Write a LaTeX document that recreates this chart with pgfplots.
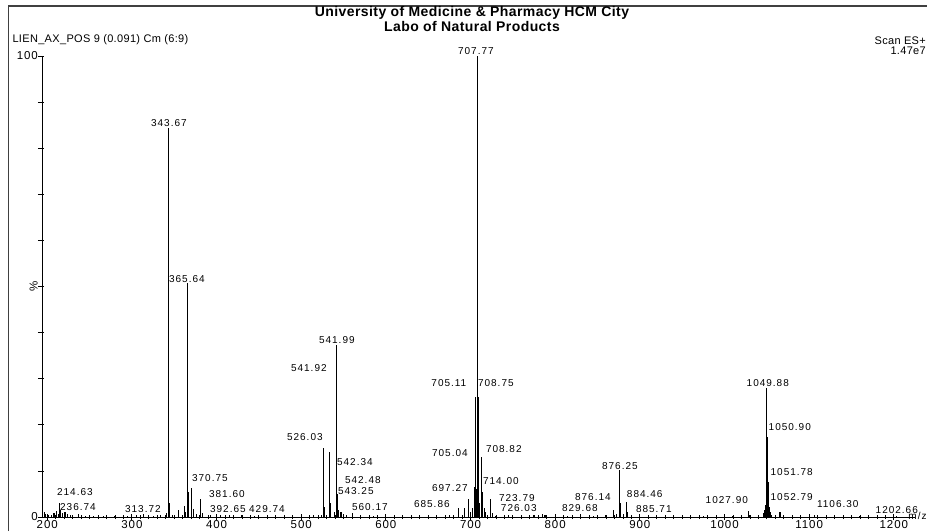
\documentclass[border=0pt]{standalone}
\usepackage{pgfplots}
\pgfplotsset{compat=1.18}
\usepackage{fontspec}
\setmainfont{Liberation Sans}
\newfontfamily\labfam[LetterSpace=10]{Liberation Sans}
\newfontfamily\tickfam[LetterSpace=8]{Liberation Sans}
\newfontfamily\hdrfam[LetterSpace=3]{Liberation Sans}
\newfontfamily\ttlfam[LetterSpace=3]{Liberation Sans}
\newcommand\lab{\labfam\fontsize{10}{12}\selectfont}
\newcommand\tic{\tickfam\fontsize{11.5}{13}\selectfont}
\newcommand\hdr{\hdrfam\fontsize{11}{13}\selectfont}
\newcommand\ttl{\ttlfam\fontsize{14}{15}\selectfont\bfseries}
\begin{document}
\begin{tikzpicture}[x=1pt,y=1pt]
\useasboundingbox (0,0) rectangle (927,531);
% frame
\draw[line width=1.1pt, black!75] (8.5,0) -- (8.5,525) -- (927,525);
% header
\node[font=\ttl] at (472,518) {University of Medicine \& Pharmacy HCM City};
\node[font=\ttl] at (472,505) {Labo of Natural Products};
\node[font=\hdr, anchor=west] at (9,491) {LIEN\_AX\_POS 9 (0.091) Cm (6:9)};
\node[font=\hdr, anchor=east, inner sep=0pt] at (926,490) {Scan ES+};
\node[font=\hdr, anchor=east, inner sep=0pt] at (926,480) {1.47e7};
\begin{axis}[
  at={(43pt,14pt)}, anchor=south west,
  scale only axis, width=872pt, height=461pt,
  xmin=195, xmax=1225, ymin=0, ymax=100,
  axis lines*=left,
  axis line style={line width=1pt, black},
  clip=false,
  xtick={200,300,...,1200},
  minor x tick num=9,
  ytick={0,10,...,100},
  yticklabels={0,{},{},{},{},{\rotatebox{90}{\%}},{},{},{},{},100},
  tick align=center,
  major tick length=6pt, minor tick length=4pt,
  every tick/.style={black, line width=0.8pt},
  y tick style={xshift=-2pt},
  ticklabel style={font=\tic, inner sep=1pt},
  xticklabel style={yshift=1pt},
  yticklabel style={xshift=-1pt},
  /pgf/number format/assume math mode=true,
  /pgf/number format/1000 sep={},
]
\addplot[ycomb, mark=none, line width=1.1pt, black] table {
x y
196.5 1.0
198 0.6
201 0.4
205 0.5
208 0.8
211 1.2
213 0.7
214.63 3.0
216 1.5
218 0.8
221 1.0
224 0.6
227 0.5
230 0.4
236.74 0.7
245 0.3
255 0.3
266 0.2
280 0.3
295 0.3
305 0.4
313.72 0.6
325 0.3
334 0.4
341 0.8
343.67 84.4
344.9 3.0
348 0.5
354.7 1.5
361.8 2.4
363 1.0
365.64 50.8
367.3 5.4
370.75 6.3
372.4 1.7
376 0.6
381.5 3.9
383 0.8
392.65 0.5
405 0.4
415 0.5
429.74 0.4
445 0.3
470 0.3
500 0.4
515 0.5
524 0.5
526.03 15.0
528 2.2
533.0 14.1
534.4 3.0
539 1.0
541.99 37.3
543.0 5.0
544.5 1.5
547 1.0
550.17 0.7
553 0.5
560.17 0.8
570 0.3
585 0.3
600 0.3
620 0.3
640 0.4
660 0.3
675 0.5
685.7 2.0
692.9 2.0
697.27 4.0
700 1.0
702 2.0
704.3 6.5
706.0 26.0
707.0 6.0
707.77 100.0
708.6 8.0
709.4 26.0
711.0 3.0
712.8 13.0
714.6 5.4
716 2.0
718 1.0
723.79 4.0
726.03 0.8
730 0.3
745 0.4
760 0.3
770 0.5
775 0.4
785 0.7
788 0.5
800 0.3
815 0.3
829.68 0.6
845 0.3
860 0.4
868.5 1.5
872 0.6
876.25 10.2
877.6 3.0
881 0.6
884.46 3.2
885.71 1.0
890 0.4
900 0.3
920 0.3
950 0.3
975 0.3
1000 0.3
1010 0.3
1027.90 1.2
1030 0.4
1040 0.4
1046 0.8
1047.5 1.5
1048.8 2.5
1049.88 28.0
1050.90 17.4
1051.78 7.6
1052.79 2.2
1054 1.0
1056 0.5
1065.5 1.1
1080 0.3
1106.30 0.4
1130 0.3
1160 0.2
1202.66 0.3
};
\addplot[only marks, mark=none, nodes near coords, point meta=explicit symbolic,
  nodes near coords style={anchor=center, font=\lab, inner sep=0pt, black}]
  table[meta=lab] {
x y lab
232.7 5.4 214.63
236.3 2.2 236.74
313.0 1.7 313.72
343.7 85.5 343.67
365.0 51.6 365.64
392.1 8.5 370.75
412.2 5.0 381.60
413.4 1.7 392.65
459.5 1.7 429.74
504.3 17.35 526.03
509.0 32.3 541.92
542.1 38.4 541.99
563.4 11.9 542.34
572.8 8.0 542.48
564.5 5.6 543.25
581.1 2.2 560.17
654.3 2.8 685.86
675.6 6.3 697.27
675.6 13.9 705.04
674.4 29.1 705.11
706.3 101.0 707.77
729.9 29.1 708.75
739.3 14.75 708.82
735.8 7.8 714.00
754.7 4.1 723.79
757.0 2.0 726.03
829.1 2.0 829.68
844.5 4.3 876.14
876.4 11.1 876.25
905.8 5.0 884.46
916.5 1.7 885.71
1002.7 3.7 1027.90
1051.1 29.1 1049.88
1077.1 19.5 1050.90
1079.4 9.8 1051.78
1079.4 4.3 1052.79
1133.8 2.8 1106.30
1203.5 1.5 1202.66
};
\node[font=\lab, inner sep=0pt] at (axis cs:1228,0.3) {m/z};
\end{axis}
\end{tikzpicture}
\end{document}
